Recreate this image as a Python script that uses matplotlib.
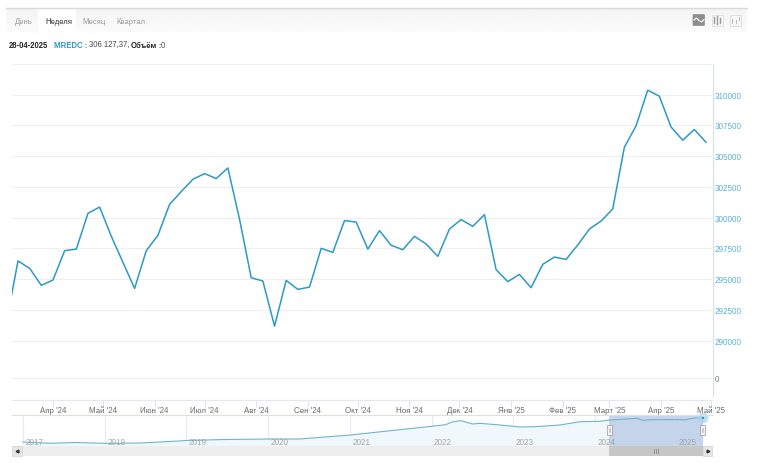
import numpy as np
import pandas as pd
import matplotlib
matplotlib.use('Agg')
import matplotlib.pyplot as plt
import matplotlib.dates as mdates
from matplotlib.patches import Rectangle, Circle, FancyBboxPatch

plt.rcParams['font.family'] = ['Liberation Sans', 'DejaVu Sans']
plt.rcParams['text.hinting'] = 'default'

W, H = 758, 464

# weekly closes
values = [291440, 296470, 295870, 294490, 294920, 297310, 297440, 300350, 300860, 298480,
          296360, 294240, 297310, 298560, 301080, 302120, 303120, 303580, 303180, 304040,
          299860, 295110, 294840, 291170, 294890, 294160, 294350, 297500, 297170, 299760,
          299640, 297440, 298940, 297750, 297390, 298480, 297850, 296850, 299070, 299840,
          299290, 300240, 295770, 294790, 295380, 294300, 296200, 296790, 296600, 297770,
          299070, 299720, 300700, 305730, 307460, 310370, 309880, 307380, 306300, 307170,
          306127.37]
dates = pd.date_range('2024-03-04', periods=len(values), freq='7D')

y_ticks = [290000, 292500, 295000, 297500, 300000, 302500, 305000, 307500, 310000, 312500]
y_labels = ['290000', '292500', '295000', '297500', '300000', '302500', '305000', '307500', '310000', '']

month_ticks = pd.date_range('2024-04-01', '2025-05-01', freq='MS')
month_labels = ["Апр '24", "Май '24", "Июн '24", "Июл '24", "Авг '24", "Сен '24", "Окт '24",
                "Ноя '24", "Дек '24", "Янв '25", "Фев '25", "Март '25", "Апр '25", "Май '25"]

# navigator overview, whole history
nav_years = [2017.0, 2017.33, 2017.64, 2018.0, 2018.43, 2018.8, 2019.0, 2019.47, 2020.02, 2020.39,
             2021.01, 2021.61, 2022.0, 2022.17, 2022.25, 2022.36, 2022.5, 2022.59, 2022.84, 2023.08,
             2023.27, 2023.57, 2023.82, 2024.06, 2024.18, 2024.52, 2024.58, 2024.68, 2024.98, 2025.1,
             2025.23, 2025.32]
nav_values = [152400, 144100, 149200, 144100, 146000, 155600, 162000, 168400, 171600, 171600,
              197200, 231000, 252900, 263100, 280400, 288700, 267600, 272000, 261200, 248400,
              250300, 261200, 282300, 284900, 293200, 304100, 291300, 295000, 296000, 294500,
              307000, 306100]
year_ticks = [2017, 2018, 2019, 2020, 2021, 2022, 2023, 2024, 2025]

LINE = '#2b9ac6'
GRID = '#efefef'
AXIS = '#d8deeb'
BLUE_TXT = '#4fadd3'


def px_axes(x0, y0, x1, y1):
    "axes from pixel box, y counted from the top"
    return fig.add_axes([x0 / W, 1 - y1 / H, (x1 - x0) / W, (y1 - y0) / H])


fig = plt.figure(figsize=(W / 100, H / 100), dpi=100, facecolor='white')

day0 = mdates.date2num(pd.Timestamp('2024-04-01'))
xlim = (day0 - 24.6, day0 + 395.6)

# main pane
ax = px_axes(12, 65, 712, 357)
ax.patch.set_alpha(0)
ax.plot(dates, values, color=LINE, lw=1.1, solid_joinstyle='round')
ax.set_xlim(xlim)
ax.set_ylim(288740, 312500)
ax.yaxis.tick_right()
ax.set_yticks(y_ticks)
ax.set_yticklabels(y_labels, fontsize=5.8, color=BLUE_TXT)
ax.tick_params(axis='y', length=0, pad=2)
ax.set_xticks([])
ax.grid(axis='y', color=GRID, lw=0.8)
ax.set_axisbelow(True)
for s in ax.spines.values():
    s.set_visible(False)

# volume pane, all zero
ax_vol = px_axes(12, 360, 712, 401.3)
ax_vol.patch.set_alpha(0)
ax_vol.set_xlim(xlim)
ax_vol.set_ylim(-1.12, 0.95)
ax_vol.yaxis.tick_right()
ax_vol.set_yticks([0])
ax_vol.set_yticklabels(['0'], fontsize=5.8, color='#777777')
ax_vol.tick_params(axis='y', length=0, pad=2)
ax_vol.grid(axis='y', color=GRID, lw=0.8)
ax_vol.set_xticks(mdates.date2num(month_ticks))
ax_vol.set_xticklabels(month_labels, fontsize=5.7, color='#666666', va='baseline')
ax_vol.tick_params(axis='x', length=5, width=0.7, color='#dde3ee', pad=3.6)
for name, s in ax_vol.spines.items():
    s.set_visible(name == 'bottom')
    s.set_color('#e4e8f0')
    s.set_linewidth(0.8)

# navigator
ax_nav = px_axes(12, 416, 712, 447)
ax_nav.patch.set_alpha(0)
ax_nav.fill_between(nav_years, nav_values, 126800, color='#f0f8fc', lw=0)
ax_nav.plot(nav_years, nav_values, color='#6fb3cf', lw=0.8)
ax_nav.set_xlim(2016.865, 2025.433)
ax_nav.set_ylim(126800, 325200)
ax_nav.set_xticks(year_ticks)
ax_nav.grid(axis='x', color='#e6eaf2', lw=0.8)
ax_nav.set_axisbelow(True)
ax_nav.set_xticklabels([])
ax_nav.set_yticks([])
ax_nav.tick_params(length=0)
for yr in year_ticks:
    ax_nav.text(yr + 0.03, 0.14, str(yr), transform=ax_nav.get_xaxis_transform(),
                fontsize=5.8, color='#a0a0a0', va='center', ha='left')
ax_nav.axvspan(2024.175, 2025.325, color='#b4c6e4', alpha=0.72, lw=0)
for s in ax_nav.spines.values():
    s.set_visible(False)

# page chrome drawn in pixel coordinates
ch = fig.add_axes([0, 0, 1, 1], zorder=5)
ch.patch.set_alpha(0)
ch.set_xlim(0, W)
ch.set_ylim(H, 0)
ch.axis('off')

ch.imshow(np.linspace(0.955, 0.985, 24).reshape(-1, 1), cmap='gray', vmin=0, vmax=1,
          extent=(6, 747, 33.5, 9), aspect='auto', zorder=0)
ch.set_xlim(0, W)
ch.set_ylim(H, 0)
ch.plot([6, 747], [8.5, 8.5], color='#d9d9d9', lw=1)
ch.add_patch(Rectangle((38, 9), 38, 24.5, color='white', lw=0, zorder=1))
for x, t, c in [(15, 'День', '#9a9a9a'), (45, 'Неделя', '#333333'),
                (82, 'Месяц', '#9a9a9a'), (116, 'Квартал', '#9a9a9a')]:
    ch.text(x, 23.5, t, fontsize=5.6, color=c, va='baseline', ha='left', zorder=2)

# chart type buttons
ch.add_patch(FancyBboxPatch((693, 15.5), 11.5, 11, boxstyle='round,pad=0,rounding_size=1',
                            fc='#8d8d8d', ec='#8d8d8d', lw=0.5, zorder=2))
ch.plot([694, 696.5, 699, 701.5, 704], [21, 19, 21.5, 23, 20.5], color='white', lw=0.8, zorder=3)
for x0 in (711.5, 729.5):
    ch.add_patch(Rectangle((x0, 15.5), 11.5, 11, fc='#f7f7f7', ec='#dddddd', lw=0.6, zorder=2))
for x, y0, y1 in [(714, 18, 24), (717, 17, 24.5), (720, 19, 24)]:
    ch.plot([x, x], [y0, y1], color='#999999', lw=1, zorder=3)
for x, y0, y1 in [(732, 20, 24), (735.5, 21, 24), (739, 18, 21)]:
    ch.plot([x, x], [y0, y1], color='#bbbbbb', lw=0.7, zorder=3)

# info line
fs = 5.6
for x, t, c, w in [(9, '28-04-2025', '#222222', 'bold'), (54, 'MREDC :', '#3399c4', 'bold'),
                   (89, '306 127,37,', '#444444', 'normal'), (130.5, 'Объём', '#222222', 'bold'),
                   (158, ':', '#222222', 'normal'), (160.5, '0', '#444444', 'normal')]:
    ch.text(x, 47.5, t, fontsize=fs, color=c, fontweight=w, va='baseline', ha='left')

# right axis line
ch.plot([712.5, 712.5], [65, 397], color=AXIS, lw=0.8)
# navigator top edge and scrollbar
ch.plot([12, 712], [416, 416], color='#dfdfdf', lw=0.8)
ch.add_patch(Rectangle((12, 447), 700, 10, color='#eeeeee', lw=0))
ch.add_patch(Rectangle((609, 447), 94, 10, color='#c6c6c6', lw=0))
ch.add_patch(Rectangle((12, 447), 10, 10, fc='#e6e6e6', ec='#d4d4d4', lw=0.5))
ch.add_patch(Rectangle((703, 447), 9, 10, fc='#e6e6e6', ec='#d4d4d4', lw=0.5))
ch.plot([17], [452], marker='<', ms=2, color='#333333')
ch.plot([708], [452], marker='>', ms=2, color='#333333')
for x in (654, 656, 658):
    ch.plot([x, x], [450, 454], color='#888888', lw=0.6)
for x in (609.5, 702.5):
    ch.add_patch(Rectangle((x - 2.5, 426), 5, 10, fc='#f3f3f3', ec='#999999', lw=0.5))
    ch.plot([x - 0.8, x - 0.8], [429, 433], color='#aaaaaa', lw=0.4)
    ch.plot([x + 0.8, x + 0.8], [429, 433], color='#aaaaaa', lw=0.4)
ch.add_patch(Circle((703, 419), 5.5, color='#a9d6ea', alpha=0.75, lw=0))
ch.add_patch(Circle((703, 419), 1.2, color='#2f97bf', lw=0))

fig.savefig('out.png', dpi=100)
